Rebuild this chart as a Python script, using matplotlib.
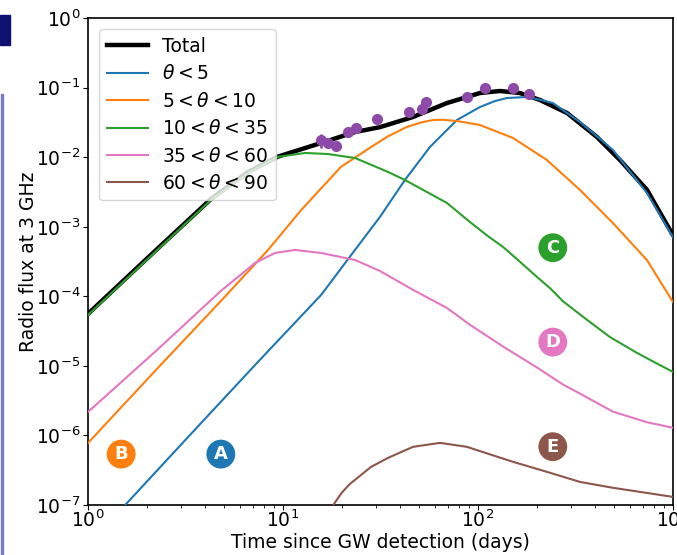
import matplotlib
matplotlib.use("Agg")
import matplotlib.pyplot as plt
from matplotlib.patches import Rectangle
from matplotlib.ticker import NullLocator

# light curves of the structured jet, split by viewing-angle band
total_days = [1.0, 2.21, 4.27, 6.61, 9.43, 12.4, 15.7, 23.4, 31.4, 46.4, 69.3, 102.4, 129.7, 164.2, 208.0, 286.1, 407.6, 534.9, 735.6, 965.0, 1000.0]
total_flux = [5.6e-5, 4.5e-4, 2.5e-3, 6.1e-3, 1.02e-2, 1.3e-2, 1.6e-2, 2.3e-2, 2.7e-2, 3.78e-2, 6.0e-2, 8.36e-2, 8.94e-2, 8.36e-2, 6.63e-2, 4.32e-2, 1.95e-2, 9.1e-3, 3.4e-3, 9.0e-4, 7.6e-4]

blue_days = [1.55, 3.26, 7.19, 15.7, 23.4, 31.4, 42.2, 56.7, 78.0, 102.4, 122.0, 140.8, 178.4, 205.0, 242.4, 286.0, 333.6, 492.4, 735.6, 1000.0]
blue_flux = [1.0e-7, 9.5e-7, 1.03e-5, 1.05e-4, 4.64e-4, 1.38e-3, 4.7e-3, 1.4e-2, 3.42e-2, 5.26e-2, 6.4e-2, 7.09e-2, 7.33e-2, 6.75e-2, 6.01e-2, 4.32e-2, 3.2e-2, 1.27e-2, 3.06e-3, 7.1e-4]

orange_days = [1.0, 2.21, 4.81, 8.38, 12.4, 19.8, 28.3, 34.6, 43.2, 51.0, 58.8, 66.0, 78.0, 102.4, 151.2, 225.8, 333.6, 492.4, 735.6, 1000.0]
orange_flux = [7.8e-7, 8.5e-6, 8.6e-5, 4.64e-4, 1.74e-3, 7.23e-3, 1.4e-2, 2.0e-2, 2.72e-2, 3.15e-2, 3.42e-2, 3.45e-2, 3.31e-2, 2.9e-2, 1.89e-2, 9.1e-3, 3.38e-3, 1.13e-3, 3.33e-4, 8.3e-5]

green_days = [1.0, 2.21, 4.27, 6.61, 9.43, 13.0, 17.0, 23.4, 34.6, 42.2, 69.3, 91.0, 112.0, 134.4, 165.0, 200.7, 235.0, 272.8, 362.2, 475.3, 653.6, 828.3, 1000.0]
green_flux = [5.4e-5, 4.34e-4, 2.43e-3, 5.93e-3, 1.01e-2, 1.15e-2, 1.11e-2, 9.74e-3, 6.13e-3, 4.7e-3, 2.2e-3, 1.17e-3, 7.4e-4, 5.13e-4, 3.1e-4, 1.9e-4, 1.3e-4, 8.5e-5, 4.6e-5, 2.6e-5, 1.54e-5, 1.08e-5, 8.2e-6]

pink_days = [1.0, 2.21, 4.81, 7.19, 9.1, 11.5, 15.7, 23.4, 31.4, 46.4, 69.3, 91.0, 134.4, 200.7, 272.8, 333.6, 492.4, 735.6, 1000.0]
pink_flux = [2.18e-6, 1.6e-5, 1.2e-4, 3.02e-4, 4.2e-4, 4.64e-4, 4.2e-4, 3.33e-4, 2.32e-4, 1.24e-4, 6.81e-5, 3.9e-5, 1.9e-5, 9.5e-6, 5.4e-6, 4.0e-6, 2.2e-6, 1.55e-6, 1.29e-6]

brown_days = [17.4, 20.0, 22.0, 28.3, 34.6, 46.4, 63.9, 87.8, 151.2, 225.8, 333.6, 492.4, 1000.0]
brown_flux = [8.5e-8, 1.5e-7, 2.0e-7, 3.54e-7, 4.77e-7, 6.86e-7, 7.83e-7, 6.86e-7, 4.18e-7, 3.0e-7, 2.15e-7, 1.77e-7, 1.31e-7]

# observed 3 GHz points
obs_days = [15.7, 17.0, 18.8, 21.5, 23.7, 30.3, 44.3, 51.6, 54.1, 87.8, 108.6, 151.2, 183.4]
obs_flux = [0.0177, 0.0160, 0.0145, 0.0230, 0.0263, 0.0354, 0.0446, 0.0494, 0.0620, 0.0733, 0.0987, 0.0987, 0.0812]
obs_err = [0.004, 0.002, 0.002, 0.003, 0.003, 0.003, 0.004, 0.004, 0.005, 0.006, 0.015, 0.008, 0.007]

labels = ["Total", r"$\theta < 5$", r"$5 < \theta < 10$", r"$10 < \theta < 35$",
          r"$35 < \theta < 60$", r"$60 < \theta < 90$"]
colors = ["black", "#1f77b4", "#ff7f0e", "#2ca02c", "#e377c2", "#8c564b"]

# circled tags next to each component
tag_letters = ["A", "B", "C", "D", "E"]
tag_days = [4.8, 1.48, 242, 242, 242]
tag_flux = [5.4e-7, 5.4e-7, 5.0e-4, 2.2e-5, 6.9e-7]
tag_colors = ["#1f77b4", "#ff7f0e", "#2ca02c", "#e377c2", "#8c564b"]

FS = 13.5

fig = plt.figure(figsize=(6.77, 5.55), dpi=100)
ax = fig.add_axes([0.130, 0.090, 0.864, 0.8775])

# slide remnants at the left edge
fig.patches.append(Rectangle((0, 0.919), 0.015, 0.054, transform=fig.transFigure,
                             color="#101070", zorder=0))
fig.patches.append(Rectangle((0.002, 0.0), 0.003, 0.83, transform=fig.transFigure,
                             color="#7a7ac8", zorder=0))

curves = [(total_days, total_flux), (blue_days, blue_flux), (orange_days, orange_flux),
          (green_days, green_flux), (pink_days, pink_flux), (brown_days, brown_flux)]
for i, (d, f) in enumerate(curves):
    if i == 0:
        ax.plot(d, f, color=colors[i], lw=3.2, label=labels[i], zorder=2)
    else:
        ax.plot(d, f, color=colors[i], lw=1.5, label=labels[i], zorder=3)

ax.errorbar(obs_days, obs_flux, yerr=obs_err, fmt="o", color="#8e4aa8", ms=7,
            elinewidth=2, capsize=0, zorder=5)

for letter, d, f, c in zip(tag_letters, tag_days, tag_flux, tag_colors):
    ax.text(d, f, letter, color="white", fontsize=13, fontweight="bold",
            ha="center", va="center", zorder=6,
            bbox=dict(boxstyle="circle,pad=0.3", fc=c, ec="none"))

ax.set_xscale("log")
ax.set_yscale("log")
ax.set_xlim(1, 1000)
ax.set_ylim(1e-7, 1)
ax.yaxis.set_minor_locator(NullLocator())

ax.set_xlabel("Time since GW detection (days)", fontsize=FS, labelpad=1)
ax.set_ylabel("Radio flux at 3 GHz", fontsize=FS, labelpad=-1.5)
ax.tick_params(labelsize=FS)
ax.tick_params(axis="x", pad=0)
ax.tick_params(axis="y", pad=2)
for s in ax.spines.values():
    s.set_linewidth(1.2)

ax.legend(loc="upper left", fontsize=FS, handlelength=2.2, handletextpad=0.75,
          labelspacing=0.45, borderaxespad=0.6)

fig.savefig("out.png", dpi=100)
